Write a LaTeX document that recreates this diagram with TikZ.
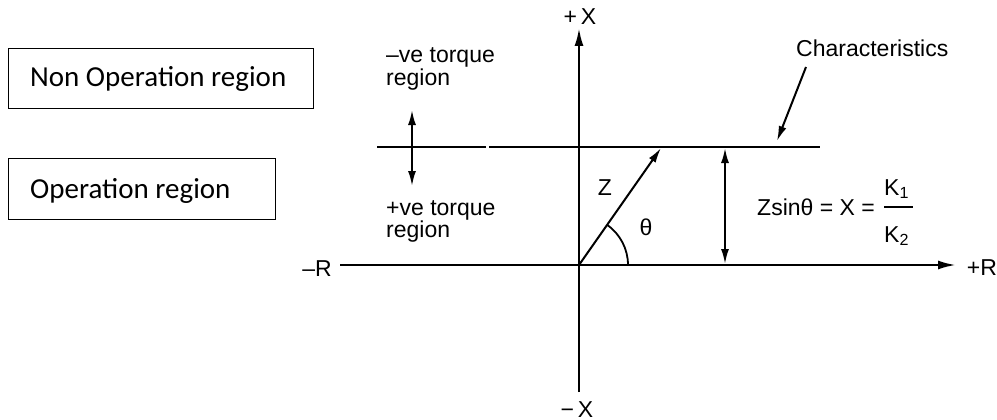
\documentclass[tikz,border=0pt]{standalone}
\usepackage{fontspec}
\setmainfont{Liberation Sans}
\newfontfamily\boxfont{Carlito}
\usetikzlibrary{arrows.meta}
\begin{document}
\begin{tikzpicture}[x=1pt,y=-1pt,
  axis/.style={line width=2.4pt},
  bigtip/.style={-{Latex[length=18pt,width=9pt]}},
  tip/.style={-{Latex[length=15pt,width=8pt]}},
  dtip/.style={{Latex[length=15pt,width=8pt]}-{Latex[length=15pt,width=8pt]}},
  lbl/.style={font=\fontsize{23}{26}\selectfont, inner sep=0pt},
  regbox/.style={draw, line width=1.3pt, inner sep=0pt, anchor=north west},
  boxtext/.style={font=\boxfont\fontsize{29}{32}\selectfont, inner sep=0pt, anchor=base west}]
\useasboundingbox (0,0) rectangle (997,420);
% boxes
\node[regbox, minimum width=305pt, minimum height=60pt] (nonop) at (8,48) {};
\node[boxtext] (nonopt) at (30,87) {Non Operation region};
\node[regbox, minimum width=267pt, minimum height=61pt] (op) at (8,158) {};
\node[boxtext] (opt) at (30,198) {Operation region};
% coordinates
\coordinate (O) at (579,265);
\coordinate (xtop) at (579,28);
\coordinate (xbot) at (579,392);
\coordinate (rleft) at (340,265);
\coordinate (rright) at (956,265);
\coordinate (c1) at (377,147);
\coordinate (c2) at (486,147);
\coordinate (c3) at (489,147);
\coordinate (c4) at (820,147);
\coordinate (ztip) at (661,148);
% axes
\draw[axis] (xbot) -- (O);
\draw[axis,bigtip] (O) -- (xtop);
\draw[axis] (rleft) -- (O);
\draw[axis,bigtip] (O) -- (rright);
% characteristic
\draw[axis] (c1) -- (c2);
\draw[axis] (c3) -- (c4);
% Z vector
\draw[line width=2pt,tip] (O) -- (ztip);
\draw[line width=1.8pt] ([shift={(49,0)}]O) arc[start angle=0, end angle=-55, radius=49];
% X distance
\coordinate (xd1) at (725,148);
\coordinate (xd2) at (725,264);
\draw[line width=2pt,dtip] (xd1) -- (xd2);
% torque region arrow
\coordinate (t1) at (412,110);
\coordinate (t2) at (412,186);
\draw[line width=2pt,dtip] (t1) -- (t2);
% characteristics pointer
\coordinate (cp1) at (806,67);
\coordinate (cp2) at (777,141);
\draw[line width=2pt,tip] (cp1) -- (cp2);
% labels
\node[lbl, anchor=base] (plusX) at (580,25) {+\,X};
\node[lbl, anchor=base] (minusX) at (577,417) {\textminus\,X};
\node[lbl, anchor=base] (minusR) at (317,276) {\textendash R};
\node[lbl, anchor=base] (plusR) at (982,275) {+R};
\node[lbl, anchor=base west] (neg1) at (386,63) {\textendash ve torque};
\node[lbl, anchor=base west] (neg2) at (386,85) {region};
\node[lbl, anchor=base west] (pos1) at (386,215) {+ve torque};
\node[lbl, anchor=base west] (pos2) at (386,237) {region};
\node[lbl, anchor=base west] (char) at (796,57) {Characteristics};
\node[lbl, anchor=base] (zl) at (605,195) {Z};
\node[lbl, anchor=base] (th) at (646,235) {θ};
\node[lbl, anchor=base west] (eq) at (757,215) {Zsinθ = X =};
\node[lbl, anchor=base west] (k1) at (884,195) {K\textsubscript{1}};
\node[lbl, anchor=base west] (k2) at (884,242) {K\textsubscript{2}};
\coordinate (fb1) at (884,207);
\coordinate (fb2) at (913,207);
\draw[line width=1.8pt] (fb1) -- (fb2);
\end{tikzpicture}
\end{document}
